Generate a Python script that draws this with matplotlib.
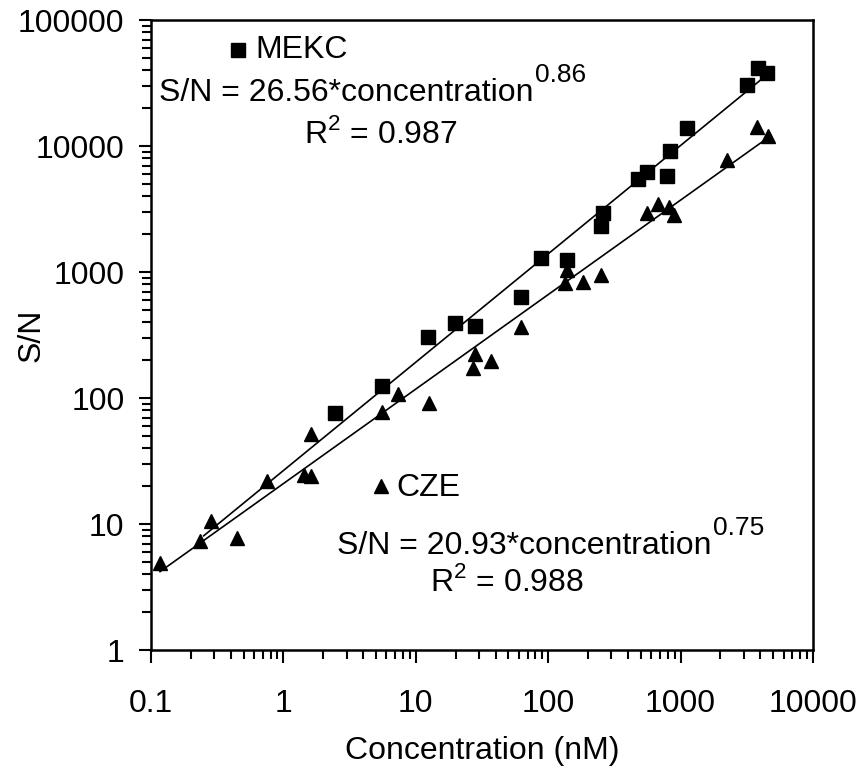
import numpy as np
import matplotlib
matplotlib.use('Agg')
import matplotlib.pyplot as plt
from matplotlib.ticker import LogLocator, FixedLocator, NullFormatter

plt.rcParams['font.family'] = ['Liberation Sans', 'DejaVu Sans']
plt.rcParams['mathtext.fontset'] = 'custom'
plt.rcParams['mathtext.rm'] = 'Liberation Sans'

# MEKC data (concentration in nM, S/N)
mekc_conc = [2.45, 5.52, 12.4, 19.9, 27.8, 62, 88.7, 139, 250, 261, 480, 561,
             785, 832, 1112, 3156, 3865, 4470]
mekc_sn = [76, 124.5, 303, 396, 373, 630, 1285, 1245, 2317, 2922, 5440, 6250,
           5780, 9180, 13800, 30500, 41400, 38200]

# CZE data
cze_conc = [0.117, 0.234, 0.282, 0.444, 0.748, 1.43, 1.61, 1.61, 5.56, 7.3,
            12.65, 26.9, 27.8, 37, 62.6, 134, 139, 184, 249, 561, 671, 822,
            896, 2253, 3796, 4595]
cze_sn = [4.9, 7.37, 10.6, 7.79, 21.9, 24.5, 24, 51.8, 77, 107.7, 91.8, 172,
          223, 198, 364, 813, 1037, 838, 946, 2955, 3465, 3300, 2833, 7740,
          14070, 12000]

# power-law fits S/N = a * c^b
mekc_a, mekc_b = 26.56, 0.86
cze_a, cze_b = 20.93, 0.75
mekc_fit_x = np.array([0.25, 4470])
cze_fit_x = np.array([0.117, 4595])

fig = plt.figure(figsize=(8.57, 7.67), dpi=100)
ax = fig.add_axes([151/857, 1 - 650/767, 662/857, 630/767])

ax.plot(mekc_conc, mekc_sn, 's', color='black', markersize=9.5, zorder=3)
ax.plot(cze_conc, cze_sn, '^', color='black', markersize=10.5, zorder=3)
ax.plot(mekc_fit_x, mekc_a * mekc_fit_x ** mekc_b, color='black', lw=1.2)
ax.plot(cze_fit_x, cze_a * cze_fit_x ** cze_b, color='black', lw=1.2)

ax.set_xscale('log')
ax.set_yscale('log')
ax.set_xlim(0.1, 10000)
ax.set_ylim(1, 100000)

ax.xaxis.set_major_locator(FixedLocator([0.1, 1, 10, 100, 1000, 10000]))
ax.set_xticklabels(['0.1', '1', '10', '100', '1000', '10000'])
ax.yaxis.set_major_locator(FixedLocator([1, 10, 100, 1000, 10000, 100000]))
ax.set_yticklabels(['1', '10', '100', '1000', '10000', '100000'])
ax.xaxis.set_minor_locator(LogLocator(base=10, subs=np.arange(2, 10), numticks=20))
ax.yaxis.set_minor_locator(LogLocator(base=10, subs=np.arange(2, 10), numticks=20))
ax.xaxis.set_minor_formatter(NullFormatter())
ax.yaxis.set_minor_formatter(NullFormatter())

ax.tick_params(which='major', direction='out', length=9, width=1.5,
               labelsize=23, top=False, right=False)
ax.tick_params(which='minor', direction='out', length=6.5, width=1.5,
               top=False, right=False)
ax.tick_params(axis='x', which='major', pad=19)
ax.tick_params(axis='y', which='major', pad=10)
for s in ax.spines.values():
    s.set_linewidth(1.8)

ax.set_xlabel('Concentration (nM)', fontsize=23, labelpad=12)
ax.set_ylabel('S/N', fontsize=23)
ax.yaxis.set_label_coords(-0.158, 0.5)

# labels for the two series
def px(x, y):
    return ((x - 151) / 662, (650 - y) / 630)

ax.plot(*px(238, 50), 's', color='black', markersize=9.5, transform=ax.transAxes, clip_on=False)
ax.text(*px(255, 50), 'MEKC', fontsize=23, va='center', ha='left', transform=ax.transAxes)
t1 = ax.text(*px(159, 93), 'S/N = 26.56*concentration', fontsize=23, va='center',
             ha='left', transform=ax.transAxes)
ax.annotate('0.86', xy=(1, 1), xycoords=t1, xytext=(1, 2), textcoords='offset points',
            fontsize=19, ha='left', va='center')
ax.text(*px(381, 134), 'R$^2$ = 0.987', fontsize=23, va='center', ha='center',
        transform=ax.transAxes)

ax.plot(*px(381, 486), '^', color='black', markersize=10.5, transform=ax.transAxes)
ax.text(*px(396, 488), 'CZE', fontsize=23, va='center', ha='left', transform=ax.transAxes)
t2 = ax.text(*px(337, 546), 'S/N = 20.93*concentration', fontsize=23, va='center',
             ha='left', transform=ax.transAxes)
ax.annotate('0.75', xy=(1, 1), xycoords=t2, xytext=(1, 2), textcoords='offset points',
            fontsize=19, ha='left', va='center')
ax.text(*px(507, 582), 'R$^2$ = 0.988', fontsize=23, va='center', ha='center',
        transform=ax.transAxes)

fig.savefig('out.png', dpi=100)
